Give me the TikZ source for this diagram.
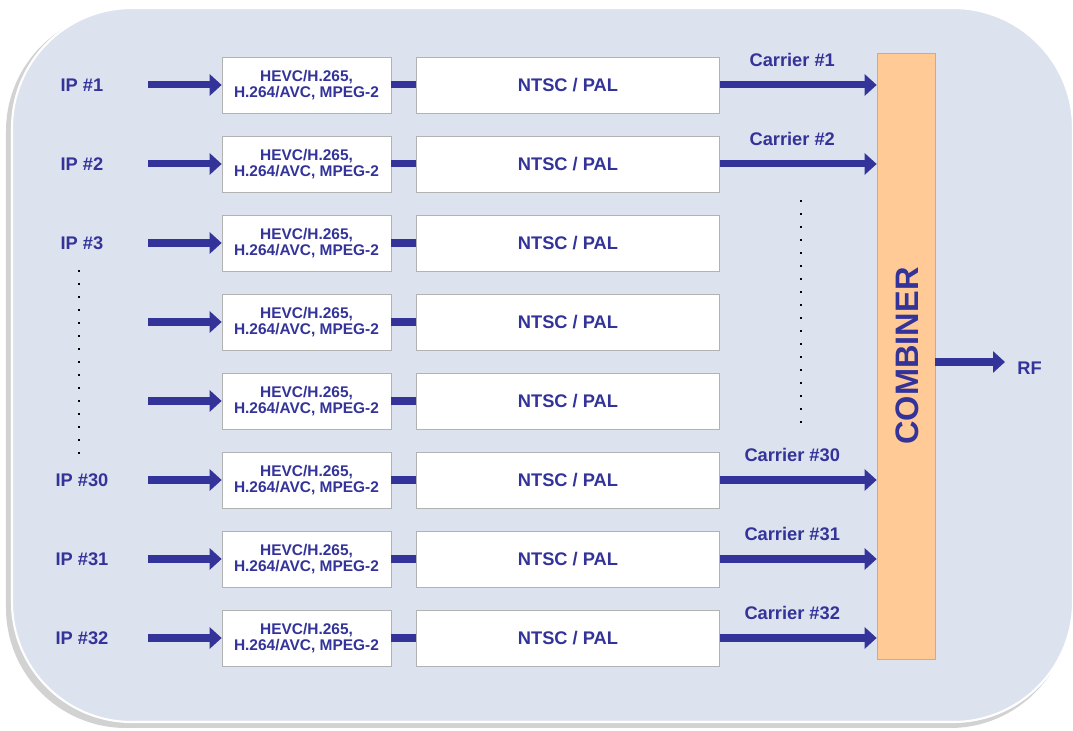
\documentclass[tikz,border=0pt]{standalone}
\usepackage{fontspec}
\setmainfont{Liberation Sans}
\usetikzlibrary{arrows.meta}
\definecolor{ink}{RGB}{51,51,153}
\definecolor{panel}{RGB}{220,226,238}
\definecolor{combfill}{RGB}{255,202,150}
\tikzset{
  codec/.style={draw=gray!60, fill=white, minimum width=3.38cm, minimum height=1.12cm,
    inner sep=0pt, align=center, text=ink, font=\fontsize{8.8}{9.2}\selectfont\bfseries},
  video/.style={draw=gray!60, fill=white, minimum width=6.06cm, minimum height=1.12cm,
    inner sep=0pt, text=ink, font=\fontsize{10.4}{12}\selectfont\bfseries},
  lbl/.style={text=ink, font=\fontsize{10.4}{12}\selectfont\bfseries},
  flow/.style={draw=ink, line width=4pt, -{Triangle[length=0.24cm,width=0.42cm]}},
  link/.style={draw=ink, line width=4pt},
  dotline/.style={line width=1.4pt, dash pattern=on 1.2pt off 6.2pt}
}
\begin{document}
\begin{tikzpicture}[x=1cm,y=1cm]
  \useasboundingbox (0,0) rectangle (21.46,14.62);
  % background panel with shadow
  \fill[gray!35, rounded corners=2.4cm] (0.12,0.06) rectangle (21.40,14.40);
  \fill[panel, draw=white, line width=1.2pt, rounded corners=2.4cm] (0.24,0.18) rectangle (21.46,14.46);

  % combiner
  \node[draw=gray!60, fill=combfill, minimum width=1.16cm, minimum height=12.12cm] (comb) at (18.12,7.50) {};
  \node[rotate=90, text=ink, font=\fontsize{18.5}{22}\selectfont\bfseries] (combtxt) at (18.15,7.50) {COMBINER};

  % channel rows
  \foreach \i/\y in {1/12.92, 2/11.34, 3/9.76, 4/8.18, 5/6.60, 6/5.02, 7/3.44, 8/1.86} {
    \node[codec] (enc\i) at (6.13,\y) {HEVC/H.265,\\H.264/AVC, MPEG-2};
    \node[video] (ntsc\i) at (11.36,\y) {NTSC / PAL};
    \coordinate (in\i) at (2.96,\y);
    \draw[flow] (in\i) -- (enc\i.west);
    \draw[link] (enc\i.east) -- (ntsc\i.west);
  }

  % inputs
  \foreach \i/\n in {1/1, 2/2, 3/3, 6/30, 7/31, 8/32}
    \node[lbl] (ip\i) at ([xshift=-1.32cm]in\i) {IP \#\n};

  % carriers
  \foreach \i/\n in {1/1, 2/2, 6/30, 7/31, 8/32}
    \draw[flow] (ntsc\i.east) -- (ntsc\i.east -| comb.west)
      node[midway, above=5pt, xshift=-0.12cm, lbl] (car\i) {Carrier \#\n};

  % output
  \node[lbl, anchor=west, inner sep=0pt] (rf) at (20.34,7.26) {RF};
  \coordinate (rfend) at (20.10,7.38);
  \draw[flow] (comb.east |- rfend) -- (rfend);

  % skipped channels
  \draw[dotline] (1.58,9.22) -- (1.58,5.52);
  \draw[dotline] (16.02,10.62) -- (16.02,6.02);
\end{tikzpicture}
\end{document}
